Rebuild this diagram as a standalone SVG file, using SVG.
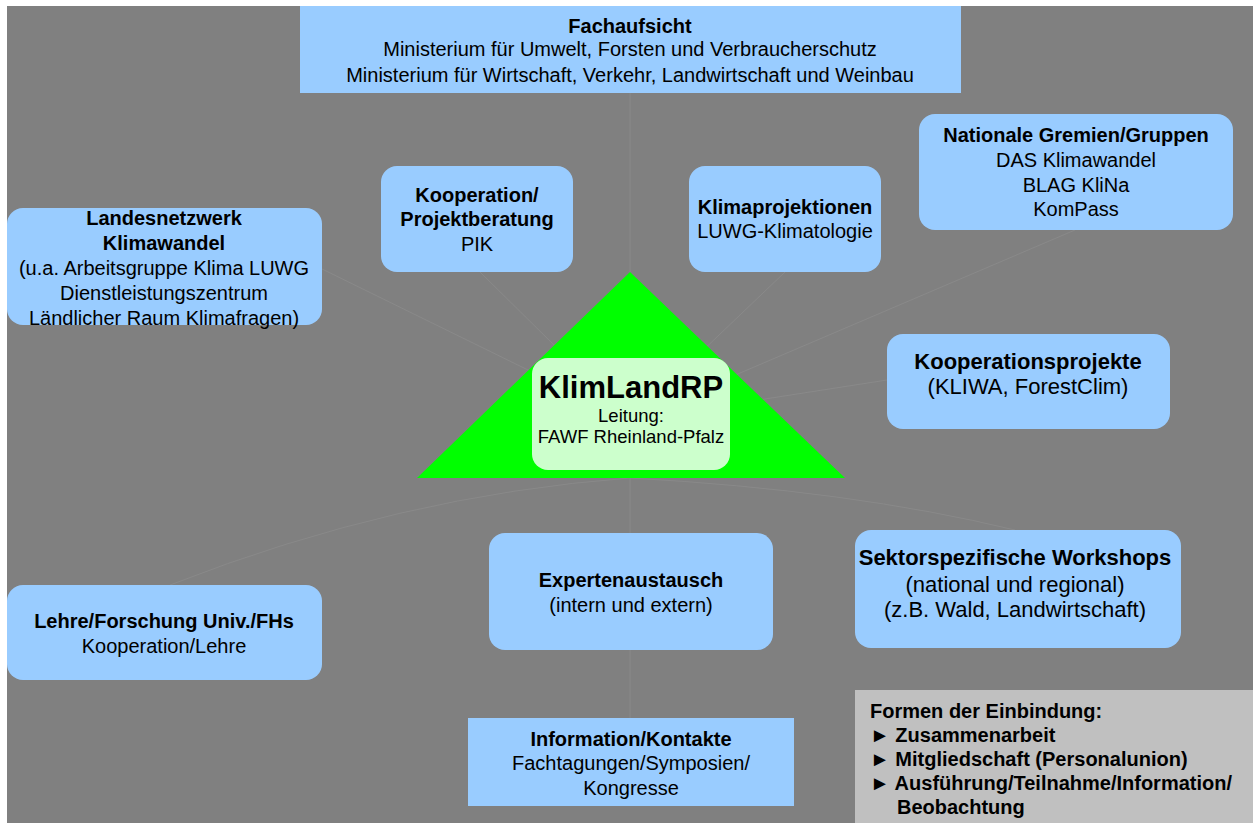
<svg xmlns="http://www.w3.org/2000/svg" width="1253" height="823" viewBox="0 0 1253 823">
<style>
.box{fill:#99ccff;}
.t{font-family:"Liberation Sans",Arial,sans-serif;font-size:20px;fill:#000;text-anchor:middle;}
.b{font-weight:bold;}
.c{stroke:#898989;stroke-width:1;fill:none;}
.l{font-family:"Liberation Sans",Arial,sans-serif;font-size:20px;font-weight:bold;fill:#000;}
</style>
<rect x="0" y="0" width="1253" height="823" fill="#ffffff"/>
<rect x="7" y="6" width="1246" height="817" fill="#808080"/>
<g id="connectors">
<line class="c" x1="630" y1="420" x2="630" y2="93"/>
<line class="c" x1="630" y1="420" x2="320" y2="268"/>
<line class="c" x1="630" y1="420" x2="480" y2="272"/>
<line class="c" x1="630" y1="420" x2="785" y2="272"/>
<line class="c" x1="630" y1="420" x2="1075" y2="230"/>
<line class="c" x1="630" y1="420" x2="887" y2="380"/>
<line class="c" x1="630" y1="420" x2="630" y2="533"/>
<path class="c" d="M630 478 Q400 495 170 585"/>
<path class="c" d="M630 478 Q850 490 1015 530"/>
<line class="c" x1="630" y1="650" x2="630" y2="718"/>
</g>
<g id="fachaufsicht">
<rect class="box" x="300" y="6" width="661" height="87"/>
<text class="t b" x="630" y="33">Fachaufsicht</text>
<text class="t" x="630" y="56">Ministerium für Umwelt, Forsten und Verbraucherschutz</text>
<text class="t" x="630" y="82">Ministerium für Wirtschaft, Verkehr, Landwirtschaft und Weinbau</text>
</g>
<g id="landesnetzwerk">
<rect class="box" x="7" y="208" width="315" height="117" rx="16"/>
<text class="t b" x="164" y="225">Landesnetzwerk</text>
<text class="t b" x="164" y="250">Klimawandel</text>
<text class="t" x="164" y="275">(u.a. Arbeitsgruppe Klima LUWG</text>
<text class="t" x="164" y="300">Dienstleistungszentrum</text>
<text class="t" x="164" y="325">Ländlicher Raum Klimafragen)</text>
</g>
<g id="kooperation">
<rect class="box" x="381" y="166" width="192" height="106" rx="16"/>
<text class="t b" x="477" y="202">Kooperation/</text>
<text class="t b" x="477" y="226">Projektberatung</text>
<text class="t" x="477" y="251">PIK</text>
</g>
<g id="klimaprojektionen">
<rect class="box" x="689" y="166" width="192" height="106" rx="16"/>
<text class="t b" x="785" y="214">Klimaprojektionen</text>
<text class="t" x="785" y="238">LUWG-Klimatologie</text>
</g>
<g id="nationale">
<rect class="box" x="919" y="114" width="314" height="116" rx="16"/>
<text class="t b" x="1076" y="142">Nationale Gremien/Gruppen</text>
<text class="t" x="1076" y="167">DAS Klimawandel</text>
<text class="t" x="1076" y="192">BLAG KliNa</text>
<text class="t" x="1076" y="216">KomPass</text>
</g>
<g id="klimlandrp">
<polygon points="630,272 845,478 417,478" fill="#00ff00"/>
<rect x="532" y="358" width="198" height="112" rx="16" fill="#ccffcc"/>
<text class="t b" x="631" y="398" style="font-size:31px">KlimLandRP</text>
<text class="t" x="631" y="422" style="font-size:18.5px">Leitung:</text>
<text class="t" x="631" y="443" style="font-size:18.5px">FAWF Rheinland-Pfalz</text>
</g>
<g id="kooperationsprojekte">
<rect class="box" x="887" y="334" width="283" height="95" rx="16"/>
<text class="t b" x="1028" y="369" style="font-size:22px">Kooperationsprojekte</text>
<text class="t" x="1028" y="394" style="font-size:22px">(KLIWA, ForestClim)</text>
</g>
<g id="expertenaustausch">
<rect class="box" x="489" y="533" width="284" height="117" rx="16"/>
<text class="t b" x="631" y="587">Expertenaustausch</text>
<text class="t" x="631" y="612">(intern und extern)</text>
</g>
<g id="sektorspezifisch">
<rect class="box" x="855" y="530" width="326" height="118" rx="16"/>
<text class="t b" x="1015" y="565" style="font-size:22px">Sektorspezifische Workshops</text>
<text class="t" x="1015" y="592" style="font-size:22px">(national und regional)</text>
<text class="t" x="1015" y="617" style="font-size:22px">(z.B. Wald, Landwirtschaft)</text>
</g>
<g id="lehre">
<rect class="box" x="7" y="585" width="315" height="95" rx="16"/>
<text class="t b" x="164" y="628">Lehre/Forschung Univ./FHs</text>
<text class="t" x="164" y="653">Kooperation/Lehre</text>
</g>
<g id="information">
<rect class="box" x="468" y="718" width="326" height="88"/>
<text class="t b" x="631" y="746">Information/Kontakte</text>
<text class="t" x="631" y="770">Fachtagungen/Symposien/</text>
<text class="t" x="631" y="795">Kongresse</text>
</g>
<g id="legende">
<rect x="855" y="690" width="398" height="133" fill="#c0c0c0"/>
<text class="l" x="870" y="718">Formen der Einbindung:</text>
<text class="l" x="870" y="742">► Zusammenarbeit</text>
<text class="l" x="870" y="766">► Mitgliedschaft (Personalunion)</text>
<text class="l" x="870" y="790">► Ausführung/Teilnahme/Information/</text>
<text class="l" x="897" y="814">Beobachtung</text>
</g>
</svg>
